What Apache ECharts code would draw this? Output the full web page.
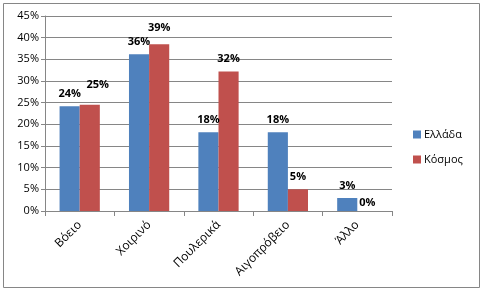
<!DOCTYPE html>
<html><head><meta charset="utf-8">
<script src="https://cdn.jsdelivr.net/npm/echarts@6/dist/echarts.min.js"></script>
<style>html,body{margin:0;padding:0;background:#fff}#c{width:483px;height:291px}</style>
</head><body><div id="c"></div>
<script>
const categories = ['Βόειο', 'Χοιρινό', 'Πουλερικά', 'Αιγοπρόβειο', 'Άλλο'];
const greece = [24.2, 36.2, 18.2, 18.2, 3.0];
const world = [24.5, 38.5, 32.2, 5.0, 0.0];
const greeceLabels = ['24%', '36%', '18%', '18%', '3%'];
const worldLabels = ['25%', '39%', '32%', '5%', '0%'];
const seriesNames = ['Ελλάδα', 'Κόσμος'];

const font = 'Open Sans, DejaVu Sans, sans-serif';
// label placement tweaks (styling only) for the second series
const worldLabelStyle = [{distance: 14, offset: [8, 0]}, {distance: 11}, {}, {}, {distance: 3}];
const worldData = world.map((v, i) => ({value: v, label: worldLabelStyle[i]}));

const chart = echarts.init(document.getElementById('c'));
chart.setOption({
  animation: false,
  graphic: [{type: 'rect', shape: {x: 3.5, y: 3.5, width: 476, height: 284}, style: {fill: 'none', stroke: '#868686', lineWidth: 1}}],
  grid: {left: 45, right: 91, top: 16, bottom: 80},
  legend: {
    orient: 'vertical', left: 408, top: 124, itemWidth: 8, itemHeight: 8, itemGap: 14,
    icon: 'rect', textStyle: {fontSize: 11, fontFamily: font, color: '#000', padding: [0, 0, 0, -2]},
    data: seriesNames
  },
  xAxis: {
    type: 'category', data: categories,
    axisLine: {lineStyle: {color: '#868686'}},
    axisTick: {show: true, length: 5, lineStyle: {color: '#868686'}},
    axisLabel: {rotate: 45, fontSize: 12, fontFamily: font, color: '#000', margin: 12}
  },
  yAxis: {
    type: 'value', min: 0, max: 45, interval: 5,
    axisLine: {show: true, lineStyle: {color: '#868686'}},
    axisTick: {show: true, length: 4, lineStyle: {color: '#868686'}},
    splitLine: {lineStyle: {color: '#868686'}},
    axisLabel: {formatter: '{value}%', fontSize: 11, fontFamily: font, color: '#000', margin: 6}
  },
  series: [
    {name: seriesNames[0], type: 'bar', data: greece, barGap: '0%', barCategoryGap: '42%',
     itemStyle: {color: '#4F81BD'},
     label: {show: true, position: 'top', distance: 7, fontWeight: 'bold', fontSize: 11, fontFamily: font, color: '#000',
       formatter: p => greeceLabels[p.dataIndex]}},
    {name: seriesNames[1], type: 'bar', data: worldData,
     itemStyle: {color: '#C0504D'},
     label: {show: true, position: 'top', distance: 7, fontWeight: 'bold', fontSize: 11, fontFamily: font, color: '#000',
       formatter: p => worldLabels[p.dataIndex]}}
  ]
});
</script></body></html>
